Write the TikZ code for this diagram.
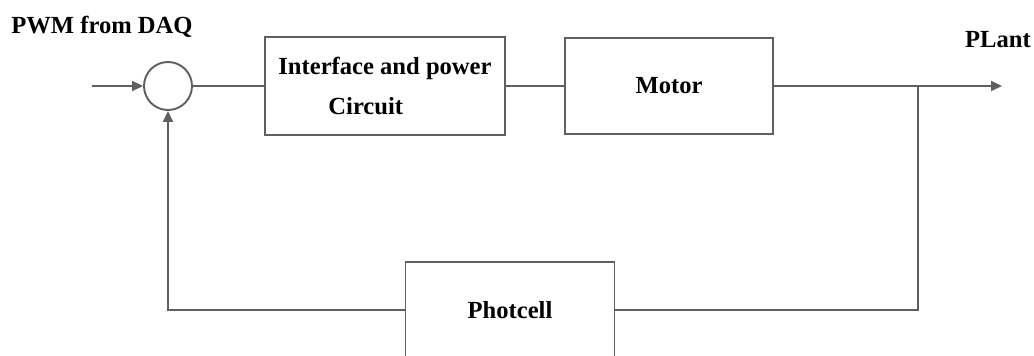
\documentclass[tikz,border=0pt]{standalone}
\usepackage{fontspec}
\setmainfont{Liberation Serif}
\usetikzlibrary{arrows.meta, positioning, calc}
\definecolor{linegray}{RGB}{95,95,95}

\begin{document}
\begin{tikzpicture}[
    block/.style={
        rectangle, draw=linegray, line width=1.1pt,
        minimum width=4.16cm, minimum height=1.92cm,
        font=\fontsize{14}{17}\selectfont\bfseries
    },
    sumnode/.style={
        circle, draw=linegray, line width=1.1pt,
        minimum size=0.96cm, inner sep=0pt
    },
    sigtext/.style={font=\fontsize{14}{17}\selectfont\bfseries},
    wire/.style={draw=linegray, line width=1.1pt},
    arrow/.style={-{Triangle[length=2.2mm, width=2mm]}, draw=linegray, line width=1.1pt}
]
\useasboundingbox (0,0) rectangle (20.68,7.1);

% --- Signal labels ---
\node[sigtext] (pwm) at (2.04, 6.56) {PWM from DAQ};
\node[sigtext] (plant) at (19.96, 6.3) {PLant};

% --- Forward path ---
\coordinate (in) at (1.84, 5.38);
\node[sumnode] (sum) at (3.36, 5.38) {};
\node[block, minimum width=4.8cm, minimum height=1.96cm, align=left] (iface) at (7.7, 5.38)
    {Interface and power\\[6pt]\hspace*{1cm}Circuit};
\node[block] (motor) at (13.38, 5.38) {Motor};
\coordinate (branch) at (18.36, 5.38);
\coordinate (out) at (20.04, 5.38);

\draw[arrow] (in) -- (sum.west);
\draw[wire] (sum.east) -- (iface.west);
\draw[wire] (iface.east) -- (motor.west);
\draw[arrow] (motor.east) -- (out);

% --- Feedback path ---
\node[block, minimum width=4.18cm] (photo) at (10.2, 0.9) {Photcell};
\draw[wire] (branch) |- (photo.east);
\draw[arrow] (photo.west) -| (sum.south);

\end{tikzpicture}
\end{document}
